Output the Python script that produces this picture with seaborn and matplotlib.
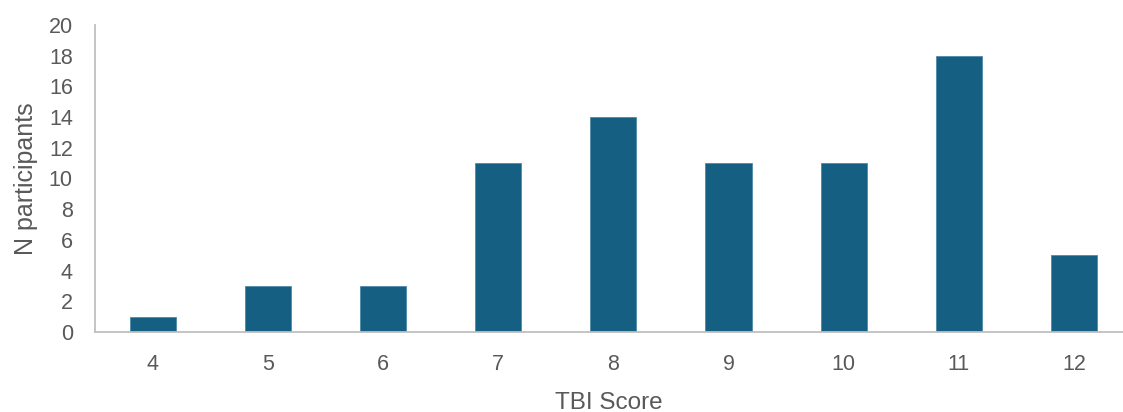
import matplotlib
matplotlib.use("Agg")
import matplotlib.pyplot as plt
import seaborn as sns
import pandas as pd

# TBI score distribution
tbi_scores = ["4", "5", "6", "7", "8", "9", "10", "11", "12"]
n_participants = [1, 3, 3, 11, 14, 11, 11, 18, 5]
y_ticks = [0, 2, 4, 6, 8, 10, 12, 14, 16, 18, 20]

sns.set_theme(style="white")
plt.rcParams["font.family"] = ["Liberation Sans", "DejaVu Sans"]

text_color = "#595959"
axis_color = "#BFBFBF"
bar_color = "#156082"

df = pd.DataFrame({"TBI Score": tbi_scores, "N participants": n_participants})

fig = plt.figure(figsize=(11.23, 4.12), dpi=100)
ax = fig.add_axes([95 / 1123, 80 / 412, 1 - 95 / 1123, 307 / 412])

sns.barplot(data=df, x="TBI Score", y="N participants", order=tbi_scores,
            color=bar_color, saturation=1, width=0.4, ax=ax,
            edgecolor="#4d8aa6", linewidth=0.6)

ax.set_xlim(-0.5, 8.425)
ax.set_ylim(0, 20)
ax.set_yticks(y_ticks)
ax.set_yticklabels([str(v) for v in y_ticks])

for side in ["top", "right"]:
    ax.spines[side].set_visible(False)
for side in ["left", "bottom"]:
    ax.spines[side].set_color(axis_color)
    ax.spines[side].set_linewidth(1.3)

ax.tick_params(axis="both", length=0, labelsize=15.5, colors=text_color)
ax.tick_params(axis="y", pad=16)
ax.tick_params(axis="x", pad=16)

ax.set_xlabel("TBI Score", fontsize=17.5, color=text_color, labelpad=12)
ax.set_ylabel("N participants", fontsize=18, color=text_color, labelpad=8)
ax.grid(False)

fig.savefig("out.png", dpi=100)
